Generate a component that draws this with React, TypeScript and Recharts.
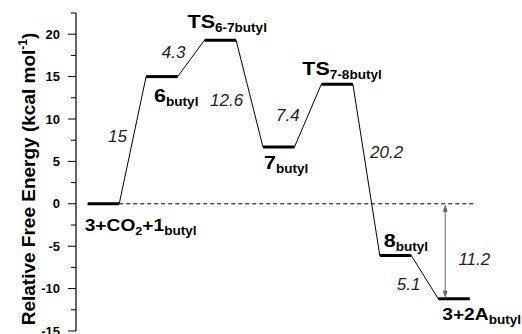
import React from 'react';
import { ComposedChart, Line, XAxis, YAxis, ReferenceLine, ReferenceDot } from 'recharts';

// ---- data ----
const stateLabels: { t: string; sub?: boolean }[][] = [
  [{ t: '3+CO' }, { t: '2', sub: true }, { t: '+1' }, { t: 'butyl', sub: true }],
  [{ t: '6' }, { t: 'butyl', sub: true }],
  [{ t: 'TS' }, { t: '6-7butyl', sub: true }],
  [{ t: '7' }, { t: 'butyl', sub: true }],
  [{ t: 'TS' }, { t: '7-8butyl', sub: true }],
  [{ t: '8' }, { t: 'butyl', sub: true }],
  [{ t: '3+2A' }, { t: 'butyl', sub: true }],
];
const stateIndex = [0, 1, 2, 3, 4, 5, 6];
const energies = [0, 15, 19.3, 6.7, 14.1, -6.1, -11.2];
const barrierLabels = ['15', '4.3', '12.6', '7.4', '20.2', '5.1'];
const reactionEnergyLabel = '11.2';
const yTicks = [-15, -12.5, -10, -7.5, -5, -2.5, 0, 2.5, 5, 7.5, 10, 12.5, 15, 17.5, 20, 22.5];

// ---- layout (positions / styles) ----
const LEVEL_W = 0.54;
const STRETCH = 1.13;
const stateLabelOffset = [
  { dx: -3, dy: 27, size: 17 },
  { dx: 8, dy: 25, size: 19 },
  { dx: -17, dy: -12, size: 19 },
  { dx: 1, dy: 22, size: 19 },
  { dx: -19, dy: -9, size: 19 },
  { dx: 4, dy: -9, size: 19 },
  { dx: 4, dy: 21, size: 17 },
];
const barrierLabelPos = [
  { x: 0.348, y: 7.31 },
  { x: 1.267, y: 17.16 },
  { x: 2.094, y: 11.5 },
  { x: 3.224, y: 9.73 },
  { x: 4.834, y: 5.37 },
  { x: 5.291, y: -10.2 },
];
const reactionLabelPos = { x: 6.346, y: -7.25 };
const arrowX = 6.12;
const dashEndX = 6.63;

const FONT = 'Liberation Sans, Arial, Helvetica, sans-serif';

const pathData = energies.flatMap((e, i) => [
  { x: stateIndex[i], y: e },
  { x: stateIndex[i] + LEVEL_W, y: e },
]);

const YTick = (props: any) => {
  const { x, y, payload } = props;
  const v = payload.value as number;
  const major = Math.abs(v % 5) < 1e-6;
  return (
    <g>
      <line x1={x - (major ? 8 : 5)} x2={x} y1={y} y2={y} stroke="#000" strokeWidth={1} />
      {major && (
        <text x={x - 16} y={y} dy={4.5} textAnchor="end" fontFamily={FONT} fontWeight="bold" fontSize={13} fill="#000">
          {v}
        </text>
      )}
    </g>
  );
};

const YAxisLabel = () => (
  <text
    x={35}
    y={179}
    transform="rotate(-90, 35, 179)"
    textAnchor="middle"
    fontFamily={FONT}
    fontWeight="bold"
    fontSize={19}
    fill="#000"
  >
    Relative Free Energy (kcal mol
    <tspan fontSize={12} dy={-8}>-1</tspan>
    <tspan dy={8}>)</tspan>
  </text>
);

const makeStateLabel = (i: number) => (props: any) => {
  const { cx, cy } = props;
  const o = stateLabelOffset[i];
  let prevSub = false;
  return (
    <text
      x={0}
      y={0}
      transform={`translate(${cx + o.dx},${cy + o.dy}) scale(${STRETCH},1)`}
      fontFamily={FONT}
      fontWeight="bold"
      fontSize={o.size}
      fill="#000"
    >
      {stateLabels[i].map((p, k) => {
        const dy = (p.sub ? 4 : 0) - (prevSub ? 4 : 0);
        prevSub = !!p.sub;
        return (
          <tspan key={k} dy={dy} fontSize={p.sub ? (p.t.length === 1 ? 11 : 12) : o.size}>
            {p.t}
          </tspan>
        );
      })}
    </text>
  );
};

const makeItalicLabel = (txt: string) => (props: any) => {
  const { cx, cy } = props;
  return (
    <text x={cx} y={cy} fontFamily={FONT} fontStyle="italic" fontSize={17} fill="#222">
      {txt}
    </text>
  );
};

const ArrowShape = (props: any) => {
  const { x1, y1, x2, y2 } = props;
  const top = Math.min(y1, y2) + 1;
  const bot = Math.max(y1, y2) - 1;
  const c = '#666';
  return (
    <g>
      <line x1={x1} x2={x2} y1={top + 2} y2={bot - 2} stroke={c} strokeWidth={1} />
      <polygon points={`${x1},${top} ${x1 - 2.5},${top + 7} ${x1 + 2.5},${top + 7}`} fill={c} />
      <polygon points={`${x1},${bot} ${x1 - 2.5},${bot - 7} ${x1 + 2.5},${bot - 7}`} fill={c} />
    </g>
  );
};

export default function App() {
  return (
    <div style={{ position: 'absolute', left: 0, top: 0, width: 522, height: 334, background: '#fff' }}>
      <ComposedChart width={522} height={334} data={pathData} margin={{ top: 13, right: 2, bottom: 3, left: 0 }}>
        <XAxis type="number" dataKey="x" domain={[-0.2, 7.4]} hide allowDataOverflow />
        <YAxis
          type="number"
          domain={[-15, 22.5]}
          ticks={yTicks}
          interval={0}
          width={76}
          tickSize={0}
          tickMargin={0}
          tickLine={false}
          axisLine={{ stroke: '#000', strokeWidth: 1.2 }}
          tick={<YTick />}
          allowDataOverflow
          label={<YAxisLabel />}
        />
        <ReferenceLine
          segment={[{ x: LEVEL_W, y: 0 }, { x: dashEndX, y: 0 }]}
          stroke="#000"
          strokeWidth={1}
          strokeDasharray="4 3"
        />
        <Line type="linear" dataKey="y" stroke="#000" strokeWidth={1} dot={false} isAnimationActive={false} />
        {energies.map((e, i) => (
          <ReferenceLine
            key={'lvl' + i}
            segment={[{ x: stateIndex[i], y: e }, { x: stateIndex[i] + LEVEL_W, y: e }]}
            stroke="#000"
            strokeWidth={3}
          />
        ))}
        <ReferenceLine
          segment={[{ x: arrowX, y: 0 }, { x: arrowX, y: energies[6] }]}
          shape={<ArrowShape />}
        />
        {energies.map((e, i) => (
          <ReferenceDot key={'sl' + i} x={stateIndex[i]} y={e} r={0} shape={makeStateLabel(i)} />
        ))}
        {barrierLabels.map((t, i) => (
          <ReferenceDot key={'bl' + i} x={barrierLabelPos[i].x} y={barrierLabelPos[i].y} r={0} shape={makeItalicLabel(t)} />
        ))}
        <ReferenceDot x={reactionLabelPos.x} y={reactionLabelPos.y} r={0} shape={makeItalicLabel(reactionEnergyLabel)} />
      </ComposedChart>
    </div>
  );
}
